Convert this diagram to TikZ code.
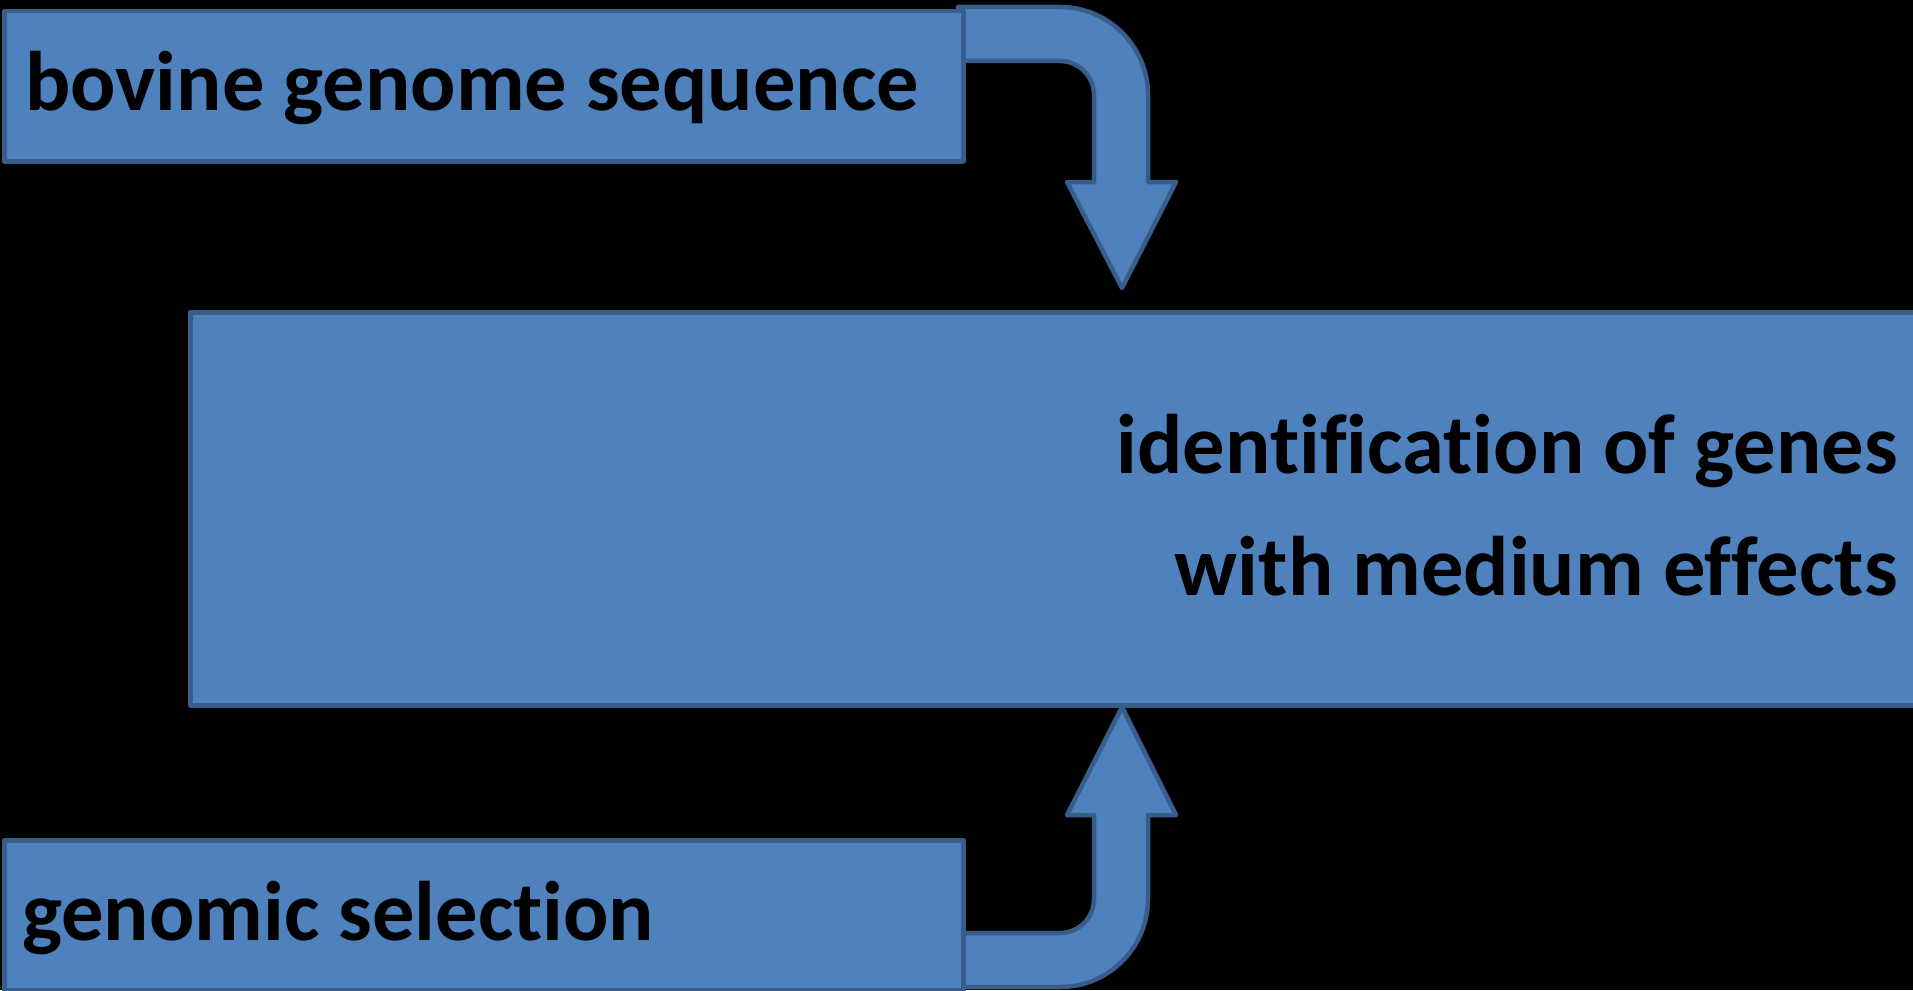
\documentclass[tikz,border=0pt]{standalone}
\usepackage{fontspec}
\setmainfont{Carlito}[Ligatures={NoCommon}]
\definecolor{boxfill}{HTML}{4F81BD}
\definecolor{boxline}{HTML}{385D8A}
\tikzset{
  blockbox/.style={draw=boxline, fill=boxfill, line width=4.5pt, rectangle, inner sep=0pt, line join=round},
  blockarrow/.style={draw=boxline, fill=boxfill, line width=4.5pt, line join=round},
  boxtext/.style={inner sep=0pt, text=black, font=\bfseries\fontsize{84.5pt}{122pt}\selectfont},
}
\begin{document}
\begin{tikzpicture}[x=1pt, y=-1pt]
\useasboundingbox (0,0) rectangle (1913,990);
\fill[black] (0,0) rectangle (1913,990);
\clip (0,0) rectangle (1913,990);
% bent arrows (drawn first, boxes overlap their tails)
\draw[blockarrow] (958,7) -- (1060,7) arc[start angle=90, end angle=0, radius=88pt]
  -- (1148,182) -- (1176,182) -- (1122,288) -- (1067,182) -- (1094,182) -- (1094,95)
  arc[start angle=0, end angle=90, radius=34pt] -- (958,61) -- cycle;
\draw[blockarrow] (958,987) -- (1060,987) arc[start angle=-90, end angle=0, radius=88pt]
  -- (1148,815) -- (1176,815) -- (1122,707) -- (1067,815) -- (1094,815) -- (1094,899)
  arc[start angle=0, end angle=-90, radius=34pt] -- (1060,933) -- (958,933) -- cycle;
% boxes
\node[blockbox, anchor=north west, minimum width=959pt, minimum height=150pt] (bovine) at (2,9) {};
\node[blockbox, anchor=north west, minimum width=959pt, minimum height=150pt] (genomic) at (2,838) {};
\node[blockbox, anchor=north west, minimum width=1760pt, minimum height=393pt] (ident) at (188,310) {};
% texts
\node[boxtext, anchor=base west] (bovinetxt) at (25,110) {bovine genome sequence};
\node[boxtext, anchor=base west] (genomictxt) at (22,940) {genomic selection};
\node[boxtext, anchor=base east] (identtxt) at (1898,473)
  {\begin{tabular}[t]{@{}r@{}}identification of genes\\with medium effects\end{tabular}};
\end{tikzpicture}
\end{document}
